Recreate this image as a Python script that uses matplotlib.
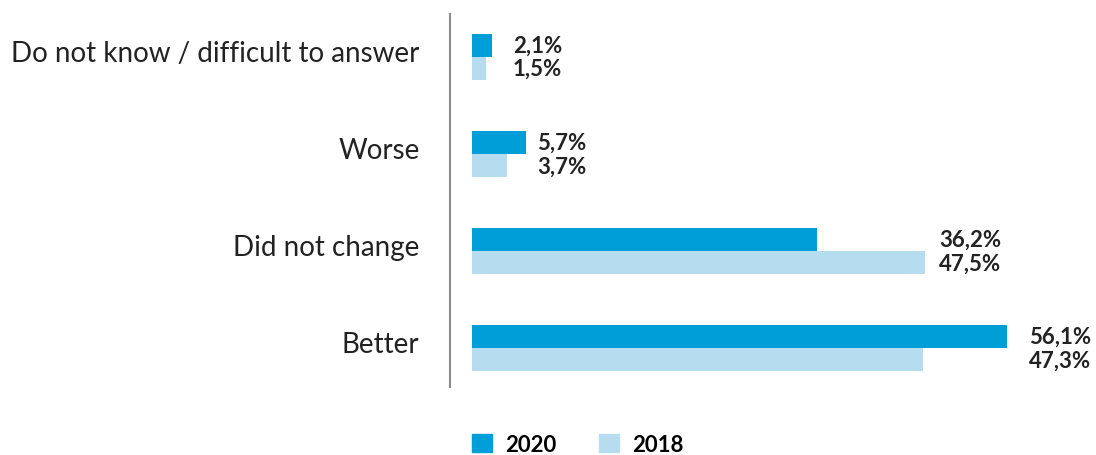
import numpy as np
import matplotlib.pyplot as plt
from matplotlib.patches import Patch

plt.rcParams['font.family'] = ['Lato', 'DejaVu Sans']

# data
categories = ['Do not know / difficult to answer', 'Worse', 'Did not change', 'Better']
values_2020 = [2.1, 5.7, 36.2, 56.1]
values_2018 = [1.5, 3.7, 47.5, 47.3]
series_names = ['2020', '2018']

COLOR_2020 = '#009ED8'
COLOR_2018 = '#B5DCEF'
BAR_H = 0.24
# gap between the longer bar and its value labels (data units), as in the source
label_gap = [2.2, 1.15, 1.45, 2.3]

fig = plt.figure(figsize=(10.96, 4.56), dpi=100)
ax = fig.add_axes([450 / 1096, 68 / 456, 646 / 1096, 373 / 456])

y = np.arange(len(categories))
ax.barh(y - BAR_H / 2, values_2020, height=BAR_H, color=COLOR_2020)
ax.barh(y + BAR_H / 2, values_2018, height=BAR_H, color=COLOR_2018)

# value labels sit to the right of the longer bar of each pair
for i in range(len(categories)):
    x_lab = max(values_2020[i], values_2018[i]) + label_gap[i]
    for v, dy in ((values_2020[i], -BAR_H / 2), (values_2018[i], BAR_H / 2)):
        ax.text(x_lab, i + dy, f'{v:.1f}%'.replace('.', ','), va='center', ha='left',
                fontsize=16, fontweight='bold', color='#222222')

ax.set_xlim(-2.3, 65.4)
ax.set_ylim(3.40, -0.443)

for s in ['top', 'right', 'bottom']:
    ax.spines[s].set_visible(False)
ax.spines['left'].set_color('#8c8c8c')
ax.spines['left'].set_linewidth(1.5)
ax.set_xticks([])
ax.set_yticks(y - 0.07)
ax.set_yticklabels(categories, fontsize=20, color='#222222')
ax.tick_params(axis='y', length=0, pad=22)

handles = [Patch(color=COLOR_2020), Patch(color=COLOR_2018)]
fig.legend(handles, series_names, loc='center left', bbox_to_anchor=(472 / 1096, 0.024),
           ncol=2, frameon=False, borderpad=0, borderaxespad=0,
           handlelength=0.9, handleheight=0.9, columnspacing=1.9,
           handletextpad=0.6, prop={'size': 16, 'weight': 'bold'})

fig.savefig('out.png', dpi=100)
